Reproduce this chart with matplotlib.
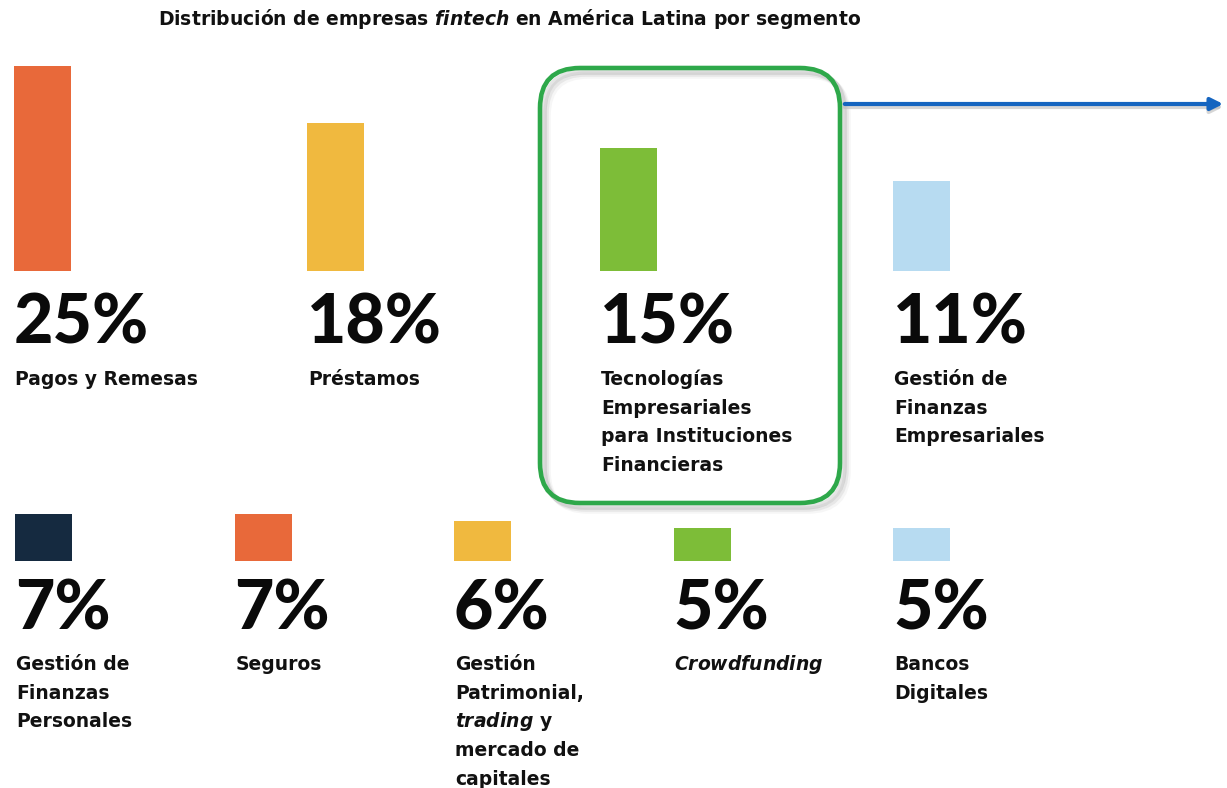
import matplotlib.pyplot as plt
from matplotlib.patches import FancyBboxPatch

plt.rcParams['font.family'] = ['DejaVu Sans']
plt.rcParams['mathtext.fontset'] = 'custom'
plt.rcParams['mathtext.rm'] = 'DejaVu Sans:bold'
plt.rcParams['mathtext.it'] = 'DejaVu Sans:italic:bold'

# datos
title = "Distribución de empresas $\\mathit{fintech}$ en América Latina por segmento"

top_labels = ["Pagos y Remesas", "Préstamos",
              "Tecnologías\nEmpresariales\npara Instituciones\nFinancieras",
              "Gestión de\nFinanzas\nEmpresariales"]
top_values = [25, 18, 15, 11]
top_colors = ['#E8693A', '#F0B93F', '#7DBD38', '#B7DBF1']

bottom_labels = ["Gestión de\nFinanzas\nPersonales", "Seguros",
                 "Gestión\nPatrimonial,\n$\\mathit{trading}$ y\nmercado de\ncapitales",
                 "$\\mathit{Crowdfunding}$", "Bancos\nDigitales"]
bottom_values = [7, 7, 6, 5, 5]
bottom_colors = ['#152A40', '#E8693A', '#F0B93F', '#7DBD38', '#B7DBF1']

W, H = 1227, 788
BARW = 57
LINE = 28.7

fig = plt.figure(figsize=(W / 100, H / 100), dpi=100)


def bar_row(values, colors, x0, step, base, top, px_per):
    # eje en pixeles: barra i centrada en x0 + barw/2 + i*step
    ax = fig.add_axes([0, (H - base) / H, 1, (base - top) / H])
    c0 = x0 + BARW / 2
    ax.bar(range(len(values)), values, width=BARW / step, color=colors)
    ax.set_xlim(-c0 / step, (W - c0) / step)
    ax.set_ylim(0, (base - top) / px_per)
    ax.axis('off')


bar_row(top_values, top_colors, 14, 293, 271, 0, 8.2)
bar_row(bottom_values, bottom_colors, 15, 219.5, 561, 480, 6.7)

ov = fig.add_axes([0, 0, 1, 1])
ov.set_xlim(0, W)
ov.set_ylim(H, 0)
ov.axis('off')
ov.patch.set_alpha(0)

ov.text(158, 25, title, fontsize=13.5, fontweight='bold', color='#111111',
        va='baseline', ha='left')


def row_text(values, labels, x0, step, pct_base, lab_base):
    for i, (v, lab) in enumerate(zip(values, labels)):
        x = x0 + i * step
        ov.text(x, pct_base, f"{v}%", fontsize=49, fontweight='black',
                family=['Lato', 'DejaVu Sans'], color='#0a0a0a',
                va='baseline', ha='left')
        for k, line in enumerate(lab.split('\n')):
            ov.text(x + 1, lab_base + k * LINE, line, fontsize=13.5,
                    fontweight='bold', color='#111111',
                    va='baseline', ha='left')


row_text(top_values, top_labels, 14, 293, 343, 385)
row_text(bottom_values, bottom_labels, 15, 219.5, 630, 670)

# recuadro verde con sombra
for off, a in [(8, 0.07), (6, 0.12), (4, 0.2)]:
    ov.add_patch(FancyBboxPatch((540 + off, 68 + off), 300, 435,
                                boxstyle="round,pad=0,rounding_size=40",
                                fill=False, ec='gray', lw=4, alpha=a))
ov.add_patch(FancyBboxPatch((540, 68), 300, 435,
                            boxstyle="round,pad=0,rounding_size=40",
                            fill=False, ec='#2EA84A', lw=3.3))

# flecha azul
ov.annotate('', xy=(1226, 107), xytext=(842, 107),
            arrowprops=dict(arrowstyle='-|>', color='#bbbbbb', lw=3,
                            mutation_scale=18, alpha=0.6))
ov.annotate('', xy=(1226, 104), xytext=(842, 104),
            arrowprops=dict(arrowstyle='-|>', color='#1565C0', lw=3,
                            mutation_scale=18))

plt.savefig('out.png', dpi=100)
